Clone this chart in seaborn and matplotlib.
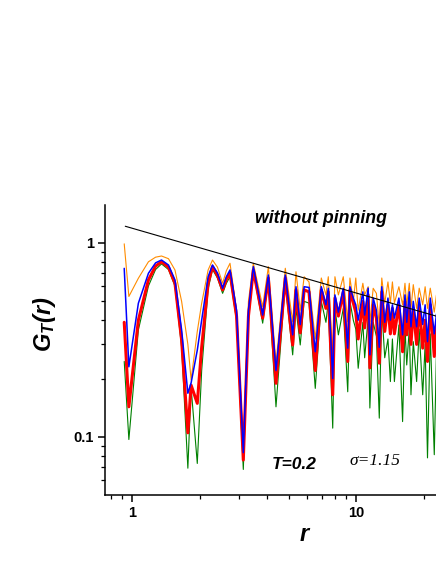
import numpy as np
import pandas as pd
import matplotlib
matplotlib.use("Agg")
import matplotlib.pyplot as plt
from matplotlib.ticker import LogLocator, NullFormatter, FixedLocator, FixedFormatter
import seaborn as sns

# distance r (shared by all four curves)
r = [0.92, 0.965, 1.064, 1.18, 1.27, 1.35, 1.45, 1.55, 1.66, 1.77,
     1.83, 1.95, 2.04, 2.18, 2.28, 2.40, 2.53, 2.63, 2.73, 2.92,
     3.13, 3.3, 3.47, 3.82, 4.05, 4.38, 4.82, 5.20, 5.38, 5.62,
     5.85, 6.15, 6.56, 6.98, 7.32, 7.5, 7.85, 8.03, 8.32, 8.75,
     9.16, 9.37, 9.7, 9.95, 10.2, 10.7, 10.9, 11.3, 11.5, 11.9,
     12.3, 12.67, 13.0, 13.4, 13.85, 14.2, 14.5, 14.8, 15.5, 16.1,
     16.5, 16.8, 17.25, 17.55, 17.97, 18.6, 19.1, 19.8, 20.3, 20.8,
     21.4, 22.3, 22.8]

g_orange = [0.99, 0.53, 0.658, 0.80, 0.845, 0.857, 0.83, 0.726, 0.50, 0.30,
            0.197, 0.35, 0.489, 0.726, 0.817, 0.75, 0.62, 0.72, 0.786, 0.45,
            0.086, 0.50, 0.786, 0.47, 0.755, 0.24, 0.741, 0.393, 0.711, 0.45,
            0.67, 0.63, 0.32, 0.66, 0.54, 0.67, 0.265, 0.67, 0.54, 0.67,
            0.393, 0.66, 0.50, 0.66, 0.45, 0.62, 0.54, 0.595, 0.393, 0.584,
            0.55, 0.375, 0.66, 0.49, 0.63, 0.49, 0.63, 0.49, 0.595, 0.48,
            0.62, 0.48, 0.62, 0.46, 0.61, 0.46, 0.585, 0.48, 0.595, 0.46,
            0.585, 0.44, 0.54]

g_blue = [0.74, 0.23, 0.489, 0.698, 0.79, 0.817, 0.77, 0.645, 0.356, 0.168,
          0.19, 0.28, 0.40, 0.67, 0.77, 0.70, 0.584, 0.67, 0.726, 0.45,
          0.083, 0.45, 0.755, 0.425, 0.684, 0.22, 0.684, 0.336, 0.595, 0.38,
          0.595, 0.59, 0.275, 0.595, 0.48, 0.584, 0.20, 0.54, 0.44, 0.584,
          0.287, 0.595, 0.52, 0.48, 0.40, 0.56, 0.425, 0.585, 0.265, 0.52,
          0.45, 0.29, 0.595, 0.39, 0.52, 0.40, 0.48, 0.41, 0.52, 0.336,
          0.54, 0.39, 0.56, 0.37, 0.50, 0.37, 0.52, 0.38, 0.48, 0.31,
          0.52, 0.34, 0.43]

g_red = [0.39, 0.143, 0.40, 0.645, 0.76, 0.80, 0.75, 0.62, 0.316, 0.105,
         0.185, 0.149, 0.29, 0.62, 0.755, 0.68, 0.573, 0.65, 0.70, 0.42,
         0.076, 0.42, 0.726, 0.41, 0.66, 0.189, 0.66, 0.298, 0.573, 0.344,
         0.573, 0.56, 0.22, 0.573, 0.46, 0.56, 0.165, 0.52, 0.42, 0.56,
         0.245, 0.573, 0.49, 0.44, 0.32, 0.50, 0.365, 0.54, 0.227, 0.48,
         0.41, 0.24, 0.56, 0.35, 0.48, 0.34, 0.46, 0.34, 0.48, 0.275,
         0.50, 0.336, 0.48, 0.30, 0.46, 0.30, 0.48, 0.287, 0.40, 0.245,
         0.48, 0.26, 0.38]

g_green = [0.245, 0.097, 0.356, 0.60, 0.73, 0.78, 0.73, 0.60, 0.29, 0.069,
           0.18, 0.073, 0.22, 0.58, 0.73, 0.66, 0.55, 0.62, 0.67, 0.40,
           0.068, 0.40, 0.71, 0.386, 0.64, 0.143, 0.62, 0.265, 0.46, 0.298,
           0.50, 0.49, 0.178, 0.50, 0.39, 0.50, 0.111, 0.46, 0.336, 0.46,
           0.171, 0.50, 0.40, 0.36, 0.226, 0.39, 0.256, 0.41, 0.141, 0.39,
           0.33, 0.125, 0.46, 0.256, 0.32, 0.193, 0.32, 0.193, 0.378, 0.12,
           0.37, 0.235, 0.36, 0.165, 0.31, 0.193, 0.36, 0.165, 0.30, 0.078,
           0.34, 0.081, 0.27]

# power-law guide line (end points)
r_fit = [0.93, 22.7]
g_fit = [1.22, 0.42]

sns.set_style("ticks")
plt.rcParams['font.family'] = ['Liberation Sans', 'DejaVu Sans']
plt.rcParams['mathtext.fontset'] = 'custom'
plt.rcParams['mathtext.bfit'] = 'Liberation Sans:italic:bold'
plt.rcParams['mathtext.it'] = 'Liberation Sans:italic'
plt.rcParams['mathtext.bf'] = 'Liberation Sans:bold'
plt.rcParams['mathtext.rm'] = 'Liberation Sans'
for k in ['text.color', 'axes.labelcolor', 'xtick.color', 'ytick.color']:
    plt.rcParams[k] = 'black'

fig = plt.figure(figsize=(4.36, 5.64), dpi=100)
ax = fig.add_axes([105/436, 1-495/564, 1-105/436, (495-205)/564])

df = pd.DataFrame({'r': r, 'orange': g_orange, 'blue': g_blue,
                   'red': g_red, 'green': g_green})

sns.lineplot(data=df, x='r', y='orange', ax=ax, color='#FF8C00', lw=0.8, sort=False)
sns.lineplot(data=df, x='r', y='green', ax=ax, color='#008000', lw=0.8, sort=False)
sns.lineplot(data=df, x='r', y='red', ax=ax, color='#FF0000', lw=2.2, sort=False)
sns.lineplot(data=df, x='r', y='blue', ax=ax, color='#0000FF', lw=1.1, sort=False)
sns.lineplot(x=r_fit, y=g_fit, ax=ax, color='black', lw=0.8)

ax.set_xscale('log')
ax.set_yscale('log')
ax.set_xlim(0.755, 22.7)
ax.set_ylim(0.0502, 1.57)

sns.despine(ax=ax)
for s in ['left', 'bottom']:
    ax.spines[s].set_linewidth(1.1)
    ax.spines[s].set_color('black')

ax.xaxis.set_major_locator(FixedLocator([1, 10]))
ax.xaxis.set_major_formatter(FixedFormatter(['1', '10']))
ax.xaxis.set_minor_locator(LogLocator(base=10, subs=np.arange(2, 10)))
ax.xaxis.set_minor_formatter(NullFormatter())
ax.yaxis.set_major_locator(FixedLocator([0.1, 1]))
ax.yaxis.set_major_formatter(FixedFormatter(['0.1', '1']))
ax.yaxis.set_minor_locator(LogLocator(base=10, subs=np.arange(2, 10)))
ax.yaxis.set_minor_formatter(NullFormatter())
ax.tick_params(which='major', direction='out', length=5, width=1.1, labelsize=10.5, pad=3)
ax.tick_params(which='minor', direction='out', length=3, width=0.9)
for lab in ax.get_xticklabels() + ax.get_yticklabels():
    lab.set_fontweight('bold')

ax.set_xlabel(r'$\mathbfit{r}$', fontsize=17)
ax.set_ylabel(r'$\mathbfit{G}_{\mathbfit{T}}\mathbfit{(r)}$', fontsize=17)
ax.xaxis.set_label_coords(0.604, -0.10)
ax.yaxis.set_label_coords(-0.142, 0.59)

ax.text(0.653, 0.955, 'without pinning', transform=ax.transAxes, ha='center', va='center',
        fontsize=12.8, fontweight='bold', fontstyle='italic')
ax.text(0.571, 0.105, 'T=0.2', transform=ax.transAxes, ha='center', va='center',
        fontsize=12.5, fontweight='bold', fontstyle='italic')
ax.text(0.816, 0.117, 'σ=1.15', transform=ax.transAxes, ha='center', va='center',
        fontsize=12.5, fontstyle='italic', family=['Liberation Serif', 'DejaVu Serif'])

fig.savefig('out.png', dpi=100)
